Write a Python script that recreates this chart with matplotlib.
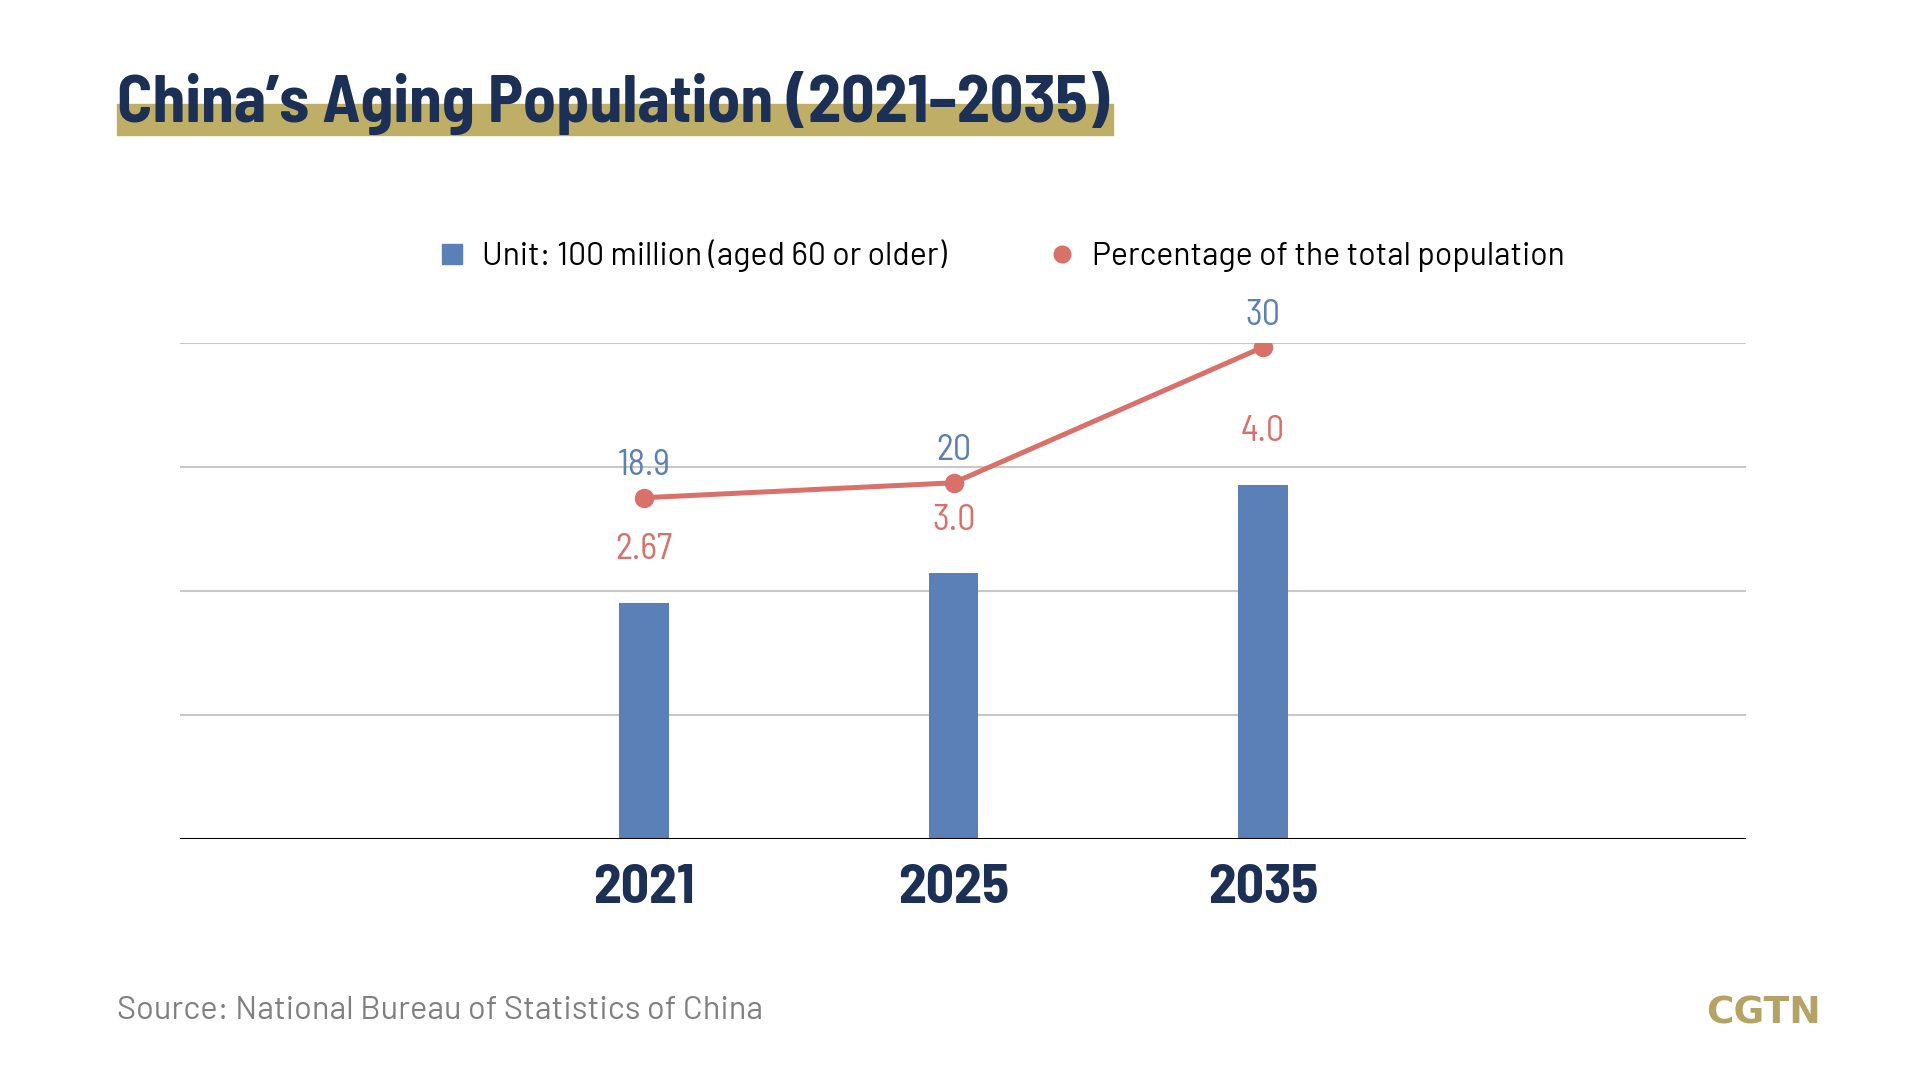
import matplotlib
matplotlib.use("Agg")

import matplotlib.pyplot as plt
from matplotlib.lines import Line2D
from matplotlib.patches import Rectangle

# data
years = ["2021", "2025", "2035"]
elderly_100m = [2.67, 3.0, 4.0]          # bars, unit 100 million
share_pct = [18.9, 20, 30]               # line, % of total population
bar_labels = ["2.67", "3.0", "4.0"]
pct_labels = ["18.9", "20", "30"]

navy = "#1c2f55"
blue = "#5b80b8"
red = "#d9706a"
gold = "#bfae66"
grid_c = "#c8c8c8"

title_font = ["Barlow Semi Condensed", "DejaVu Sans"]
year_font = ["Barlow Semi Condensed", "DejaVu Sans"]
reg_font = ["Barlow", "Barlow Semi Condensed", "DejaVu Sans"]
lab_font = ["Barlow Semi Condensed", "DejaVu Sans"]

fig = plt.figure(figsize=(19.2, 10.8), dpi=100)
fig.patch.set_facecolor("white")

ax = fig.add_axes([0.09375, 0.2231, 0.8156, 0.4593])
ax2 = ax.twinx()

x = list(range(len(years)))

# bars
ax.bar(x, elderly_100m, width=0.16, color=blue, zorder=2)
ax.set_xlim(-1.5, 3.56)
ax.set_ylim(0, 5.6)
for g in [1.4, 2.8, 4.2, 5.6]:
    ax.axhline(g, color=grid_c, lw=1.5, zorder=0)
ax.axhline(0, color="black", lw=2.2, zorder=3)

# line on second axis
ax2.set_ylim(-6.25, 30.3)
ax2.plot(x, share_pct, color=red, lw=3.6, marker="o", markersize=13, zorder=4)

for a in (ax, ax2):
    for s in a.spines.values():
        s.set_visible(False)
    a.set_yticks([])
    a.tick_params(length=0)

ax.set_xticks(x)
ax.set_xticklabels(years, fontsize=40, fontweight="bold", color=navy, family=year_font)
ax.tick_params(axis="x", pad=18)

# value labels
for xi, v, lab in zip(x, elderly_100m, bar_labels):
    ax.annotate(lab, (xi, v), xytext=(0, 38), textcoords="offset points",
                ha="center", va="center", fontsize=26, color=red, family=lab_font)
for xi, v, lab in zip(x, share_pct, pct_labels):
    ax2.annotate(lab, (xi, v), xytext=(0, 23), textcoords="offset points",
                 ha="center", va="center", fontsize=26, color=blue, family=lab_font)

# legend
handles = [
    Line2D([], [], marker="s", color=blue, linestyle="none", markersize=14),
    Line2D([], [], marker="o", color=red, linestyle="none", markersize=12),
]
fig.legend(handles, ["Unit: 100 million (aged 60 or older)", "Percentage of the total population"],
           loc="center", bbox_to_anchor=(0.521, 0.763), ncol=2, frameon=False,
           prop={"family": reg_font, "size": 23}, handletextpad=0.45, columnspacing=3.1,
           handlelength=1.0)

# title with gold highlight
fig.patches.append(Rectangle((117 / 1920, 1 - 135 / 1080), (1113 - 117) / 1920, 31 / 1080,
                             transform=fig.transFigure, color=gold, zorder=0))
fig.text(117 / 1920, 1 - 103 / 1080, "China\u2019s Aging Population (2021\u20132035)",
         fontsize=47.5, fontweight="bold", color=navy, family=title_font, va="center", ha="left",
         zorder=2)

# footer
fig.text(117 / 1920, 1 - 1011 / 1080, "Source: National Bureau of Statistics of China",
         fontsize=23.5, color="#808080", family=reg_font, va="center", ha="left")
fig.text(1821 / 1920, 1 - 1014 / 1080, "CGTN", fontsize=27, fontweight="bold",
         color="#b5a265", family="DejaVu Sans", va="center", ha="right")

fig.savefig("out.png", dpi=100)
